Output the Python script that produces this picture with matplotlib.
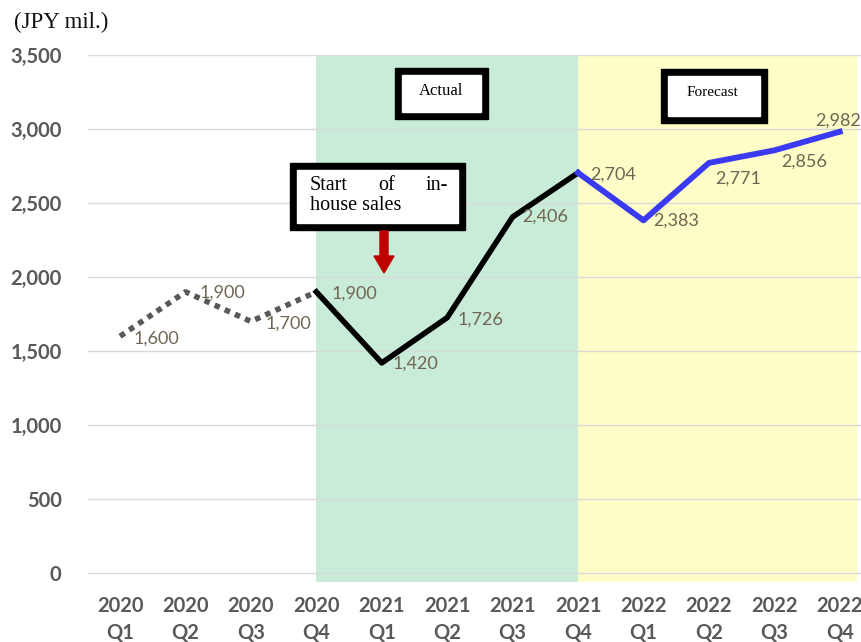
import matplotlib
matplotlib.use('Agg')
import matplotlib.pyplot as plt
from matplotlib.patches import Rectangle, FancyArrow

# data
quarters = ['2020\nQ1', '2020\nQ2', '2020\nQ3', '2020\nQ4',
            '2021\nQ1', '2021\nQ2', '2021\nQ3', '2021\nQ4',
            '2022\nQ1', '2022\nQ2', '2022\nQ3', '2022\nQ4']
sales = [1600, 1900, 1700, 1900, 1420, 1726, 2406, 2704, 2383, 2771, 2856, 2982]
labels = ['1,600', '1,900', '1,700', '1,900', '1,420', '1,726',
          '2,406', '2,704', '2,383', '2,771', '2,856', '2,982']
yticks = [0, 500, 1000, 1500, 2000, 2500, 3000, 3500]

# label offsets in pixels (dx, dy)
offsets = [(13, -2), (14, -1), (15, -2), (15, -2), (11, -1), (10, -2),
           (10, 0), (12, -2), (10, 0), (6, -16), (7, -11), (-25, 11)]

W, H = 862, 642
fig = plt.figure(figsize=(W / 100, H / 100), dpi=100)
ax = fig.add_axes([88 / W, 1 - 582 / H, 1 - 88 / W, (582 - 55) / H])

x = list(range(len(sales)))
ax.axvspan(3, 7, color='#c9ecd8', zorder=0, lw=0)
ax.axvspan(7, 11.27, color='#fefdc8', zorder=0, lw=0)

ax.plot(x[:4], sales[:4], color='#595959', lw=4, linestyle=(0, (1, 1)),
        dash_capstyle='butt', zorder=3)
ax.plot(x[3:8], sales[3:8], color='black', lw=4, zorder=3)
ax.plot(x[7:], sales[7:], color='#3a3af2', lw=4.2, zorder=3)

for xi, v, lab, (dx, dy) in zip(x, sales, labels, offsets):
    ax.annotate(lab, (xi, v), xytext=(dx, dy), textcoords='offset pixels',
                ha='left', va='center', fontsize=13, color='#6f6552',
                family='Lato', zorder=4)

ax.set_xlim(-0.49, 11.34)
ax.set_ylim(-60, 3500)
ax.set_yticks(yticks)
ax.set_yticklabels([f'{t:,}' for t in yticks])
ax.set_xticks(x)
ax.set_xticklabels(quarters, linespacing=1.45)
ax.grid(axis='y', color='#d9d9d9', lw=1, zorder=1)
ax.set_axisbelow(True)
for s in ax.spines.values():
    s.set_visible(False)
ax.tick_params(length=0, labelcolor='#595959', labelsize=14.5)
ax.tick_params(axis='y', pad=19)
ax.tick_params(axis='x', pad=10)
for t in ax.get_xticklabels() + ax.get_yticklabels():
    t.set_family('Lato')
    t.set_fontweight('bold')

fig.text(14 / W, 1 - 22 / H, '(JPY mil.)', family='Liberation Serif',
         fontsize=16.5, va='center', ha='left', color='#111111')


def box(x0, y0, x1, y1, border=7):
    # thick black frame, white inside (pixel coords from top-left)
    fig.add_artist(Rectangle((x0 / W, 1 - y1 / H), (x1 - x0) / W, (y1 - y0) / H,
                             transform=fig.transFigure, color='black', zorder=5))
    fig.add_artist(Rectangle(((x0 + border) / W, 1 - (y1 - border) / H),
                             (x1 - x0 - 2 * border) / W, (y1 - y0 - 2 * border) / H,
                             transform=fig.transFigure, color='white', zorder=6))


box(395, 68, 488, 119)
fig.text(441 / W, 1 - 91 / H, 'Actual', family='Liberation Serif', fontsize=12,
         ha='center', va='center', zorder=7)
box(661, 69, 767, 123)
fig.text(712 / W, 1 - 93 / H, 'Forecast', family='Liberation Serif', fontsize=11,
         ha='center', va='center', zorder=7)

box(290, 163, 465, 230)
serif = dict(family='Liberation Serif', fontsize=14.5, va='center', zorder=7)
fig.text(310 / W, 1 - 185 / H, 'Start', ha='left', **serif)
fig.text(387 / W, 1 - 185 / H, 'of', ha='center', **serif)
fig.text(448 / W, 1 - 185 / H, 'in-', ha='right', **serif)
fig.text(310 / W, 1 - 205 / H, 'house sales', ha='left', **serif)

fig.add_artist(FancyArrow(384 / W, 1 - 231 / H, 0, -42 / H, width=6 / H,
                          head_width=20 / W, head_length=17 / H,
                          length_includes_head=True, transform=fig.transFigure,
                          color='#c00000', zorder=5))

fig.savefig('out.png', dpi=100)
